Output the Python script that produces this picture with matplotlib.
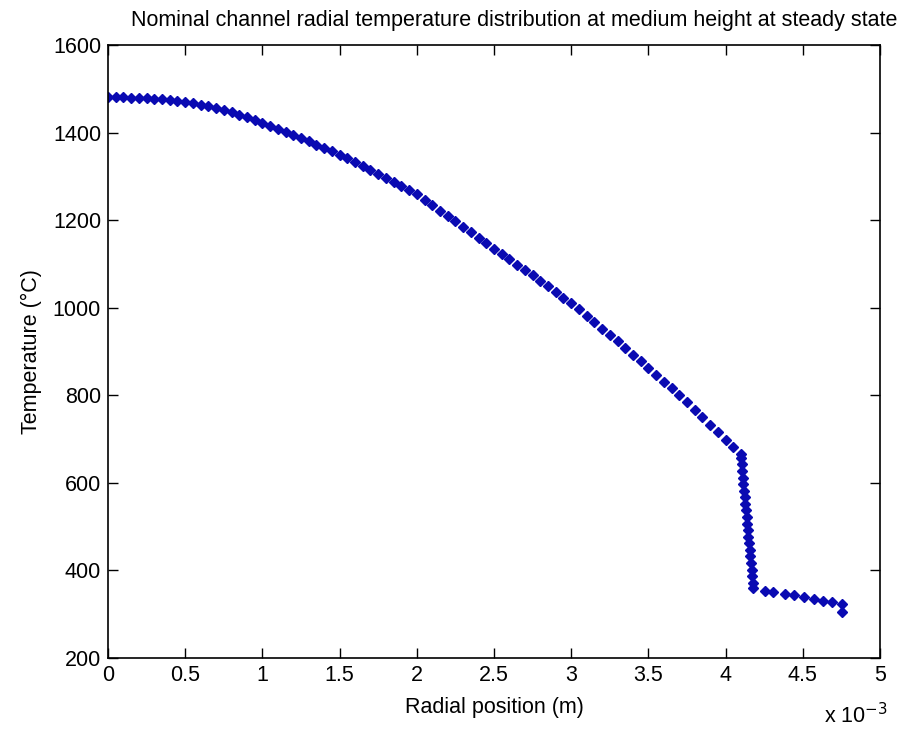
import matplotlib.pyplot as plt
from matplotlib.ticker import FuncFormatter

# radial position in units of 1e-3 m, temperature in degC
r_fuel = [0.00, 0.05, 0.10, 0.15, 0.20, 0.25, 0.30, 0.35, 0.40, 0.45,
          0.50, 0.55, 0.60, 0.65, 0.70, 0.75, 0.80, 0.85, 0.90, 0.95,
          1.00, 1.05, 1.10, 1.15, 1.20, 1.25, 1.30, 1.35, 1.40, 1.45,
          1.50, 1.55, 1.60, 1.65, 1.70, 1.75, 1.80, 1.85, 1.90, 1.95,
          2.00, 2.05, 2.10, 2.15, 2.20, 2.25, 2.30, 2.35, 2.40, 2.45,
          2.50, 2.55, 2.60, 2.65, 2.70, 2.75, 2.80, 2.85, 2.90, 2.95,
          3.00, 3.05, 3.10, 3.15, 3.20, 3.25, 3.30, 3.35, 3.40, 3.45,
          3.50, 3.55, 3.60, 3.65, 3.70, 3.75, 3.80, 3.85, 3.90, 3.95,
          4.00, 4.05, 4.10]
T_fuel = [1481, 1481, 1481, 1480, 1479, 1478, 1477, 1476, 1474, 1472,
          1470, 1467, 1463, 1460, 1456, 1451, 1446, 1441, 1435, 1429,
          1423, 1416, 1409, 1402, 1395, 1388, 1380, 1372, 1365, 1357,
          1349, 1341, 1332, 1324, 1315, 1306, 1297, 1287, 1278, 1269,
          1259, 1247, 1235, 1222, 1210, 1197, 1185, 1172, 1160, 1147,
          1135, 1123, 1111, 1098, 1086, 1074, 1062, 1049, 1036, 1023,
          1010, 996, 981, 967, 952, 938, 923, 908, 893, 878,
          863, 847, 831, 816, 800, 784, 767, 750, 733, 716,
          698, 682, 665]

r_gap = [4.100, 4.104, 4.108, 4.112, 4.116, 4.120, 4.124, 4.128, 4.132, 4.136,
         4.140, 4.144, 4.148, 4.152, 4.156, 4.160, 4.164, 4.168, 4.172, 4.176, 4.180]
T_gap = [657, 642, 627, 612, 597, 582, 567, 552, 537, 522,
         507, 492, 477, 462, 447, 432, 417, 402, 387, 372, 360]

r_clad = [4.255, 4.31, 4.385, 4.44, 4.51, 4.57, 4.63, 4.69, 4.755, 4.755]
T_clad = [354, 350, 347, 343, 339, 335, 331, 327, 323, 305]

x_ticks = [0, 0.5, 1, 1.5, 2, 2.5, 3, 3.5, 4, 4.5, 5]
y_ticks = [200, 400, 600, 800, 1000, 1200, 1400, 1600]

plt.rcParams['font.family'] = ['Liberation Sans', 'DejaVu Sans']
fs = 15.5

fig = plt.figure(figsize=(9.1, 7.31), dpi=100)
ax = fig.add_axes([0.1187, 0.0999, 0.8483, 0.8385])

r_all = r_fuel + r_gap + r_clad
T_all = T_fuel + T_gap + T_clad
ax.plot(r_all, T_all, linestyle='none', marker='D', markersize=5.2,
        color='#0a0ab2', markeredgecolor='#0a0ab2')

ax.set_xlim(0, 5)
ax.set_ylim(200, 1600)
ax.set_xticks(x_ticks)
ax.set_yticks(y_ticks)
ax.xaxis.set_major_formatter(FuncFormatter(lambda v, p: f"{v:g}"))
ax.tick_params(direction='in', top=True, right=True, length=7, width=1,
               labelsize=fs, pad=5)
for s in ax.spines.values():
    s.set_linewidth(1.2)

ax.set_title("Nominal channel radial temperature distribution at medium height at steady state",
             fontsize=fs, pad=14, x=0.526)
ax.set_xlabel("Radial position (m)", fontsize=fs, labelpad=8)
ax.set_ylabel("Temperature (\u00b0C)", fontsize=fs, labelpad=8)
fig.text(0.905, 0.01, "x 10$^{-3}$", fontsize=fs)

fig.savefig("out.png", dpi=100)
